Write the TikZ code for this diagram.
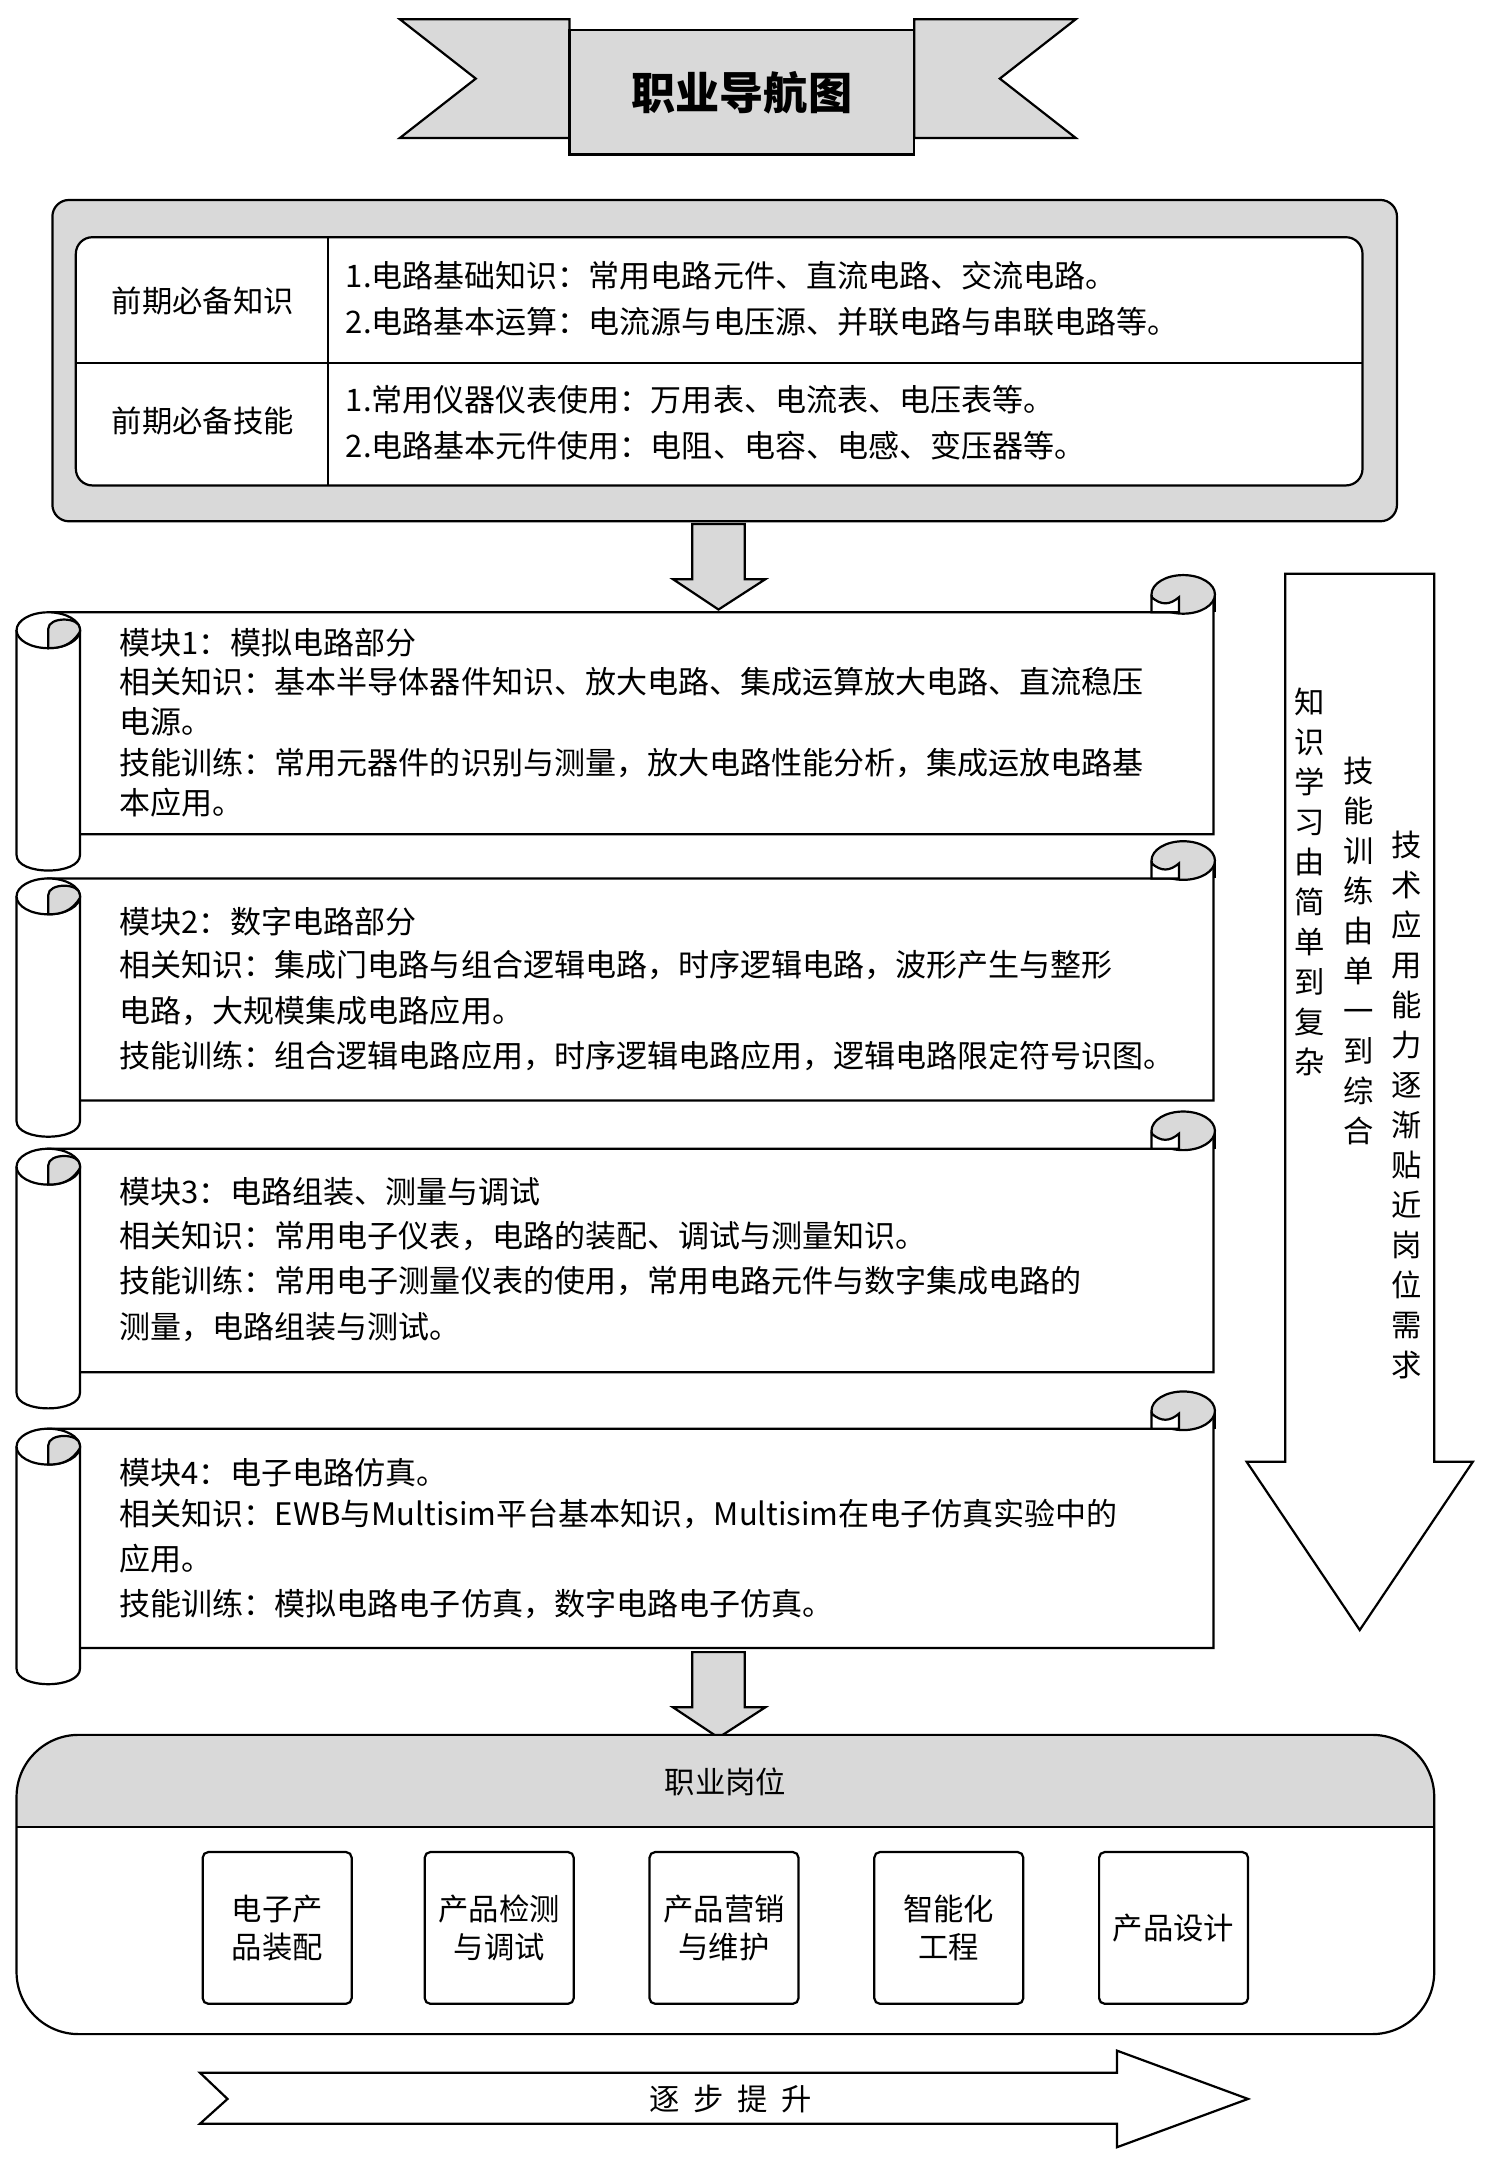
\documentclass[tikz,border=0pt]{standalone}
\usepackage{fontspec}
\setmainfont{Noto Sans CJK SC}
\begin{document}
\begin{tikzpicture}[x=1pt,y=-1pt,line width=1.6pt,
  txt/.style={anchor=west,font=\fontsize{22.5}{26}\selectfont,inner sep=0pt},
  job/.style={draw,rounded corners=4pt,minimum width=108pt,minimum height=110pt,align=center,font=\fontsize{22}{28}\selectfont},
  vtxt/.style={align=center,font=\fontsize{22}{29}\selectfont,inner sep=0pt,anchor=north}]
\useasboundingbox (0,0) rectangle (1080,1575);
\definecolor{g}{gray}{0.85}
% banner
\draw[fill=g] (290,14)--(413,14)--(413,100)--(290,100)--(345,57)--cycle;
\draw[fill=g] (780,14)--(663,14)--(663,100)--(780,100)--(725,57)--cycle;
\node[draw,fill=g,minimum width=250pt,minimum height=90pt,font=\fontsize{32}{32}\selectfont\bfseries] (title) at (538,67) {职业导航图};
% pre box
\draw[fill=g,rounded corners=12pt] (38,145) rectangle (1013,378);
\draw[fill=white,rounded corners=12pt] (55,172) rectangle (988,352);
\draw (238,172)--(238,352) (55,263)--(988,263);
\node[font=\fontsize{22}{22}\selectfont] (k) at (147,218) {前期必备知识};
\node[font=\fontsize{22}{22}\selectfont] (s) at (147,305) {前期必备技能};
\node[txt] at (250,200) {1.电路基础知识：常用电路元件、直流电路、交流电路。};
\node[txt] at (250,233) {2.电路基本运算：电流源与电压源、并联电路与串联电路等。};
\node[txt] at (250,290) {1.常用仪器仪表使用：万用表、电流表、电压表等。};
\node[txt] at (250,323) {2.电路基本元件使用：电阻、电容、电感、变压器等。};
% arrows down
\newcommand\darrow[1]{\draw[fill=g] (502,#1)--(540,#1)--(540,#1+40)--(555,#1+40)--(521,#1+62)--(488,#1+40)--(502,#1+40)--cycle;}
\darrow{380}
\darrow{1198}
% scrolls: #1 = top line y, #2 = bottom of left roll
\newcommand\myscroll[2]{
 \draw[fill=white] (35,#1)--(855,#1)--(880,#1-13)--(880,#2-27)--(35,#2-27)--cycle;
 \draw[fill=white] (12,#1+13)--(12,#2-12) .. controls (12,#2+3) and (58,#2+3) .. (58,#2-12)--(58,#1+13);
 \draw[fill=white] (35,#1+13) ellipse[x radius=23,y radius=13];
 \draw[fill=g] (35,#1+26)--(35,#1+12) .. controls (35,#1+3) and (58,#1+3) .. (58,#1+12)--(58,#1+14) .. controls (52,#1+24) and (44,#1+26) .. cycle;
 \draw[fill=g] (858,#1-13) ellipse[x radius=23,y radius=14];
 \draw[fill=white] (835,#1)--(835,#1-11) .. controls (842,#1-5) and (848,#1-5) .. (855,#1-11)--(855,#1)--cycle;
 \draw (881,#1-13)--(881,#1);
}
\myscroll{444}{632}
\myscroll{637}{825}
\myscroll{833}{1022}
\myscroll{1036}{1222}
\node[txt] at (86,466) {模块1：模拟电路部分};
\node[txt] at (86,494) {相关知识：基本半导体器件知识、放大电路、集成运算放大电路、直流稳压};
\node[txt] at (86,523) {电源。};
\node[txt] at (86,553) {技能训练：常用元器件的识别与测量，放大电路性能分析，集成运放电路基};
\node[txt] at (86,582) {本应用。};
\node[txt] at (86,668) {模块2：数字电路部分};
\node[txt] at (86,700) {相关知识：集成门电路与组合逻辑电路，时序逻辑电路，波形产生与整形};
\node[txt] at (86,733) {电路，大规模集成电路应用。};
\node[txt] at (86,766) {技能训练：组合逻辑电路应用，时序逻辑电路应用，逻辑电路限定符号识图。};
\node[txt] at (86,864) {模块3：电路组装、测量与调试};
\node[txt] at (86,896) {相关知识：常用电子仪表，电路的装配、调试与测量知识。};
\node[txt] at (86,929) {技能训练：常用电子测量仪表的使用，常用电路元件与数字集成电路的};
\node[txt] at (86,962) {测量，电路组装与测试。};
\node[txt] at (86,1068) {模块4：电子电路仿真。};
\node[txt] at (86,1098) {相关知识：EWB与Multisim平台基本知识，Multisim在电子仿真实验中的};
\node[txt] at (86,1130) {应用。};
\node[txt] at (86,1163) {技能训练：模拟电路电子仿真，数字电路电子仿真。};
% big right arrow
\draw (932,416)--(1040,416)--(1040,1060)--(1068,1060)--(986,1182)--(904,1060)--(932,1060)--cycle;
\node[vtxt] (v1) at (950,498) {知\\识\\学\\习\\由\\简\\单\\到\\复\\杂};
\node[vtxt] (v2) at (985,548) {技\\能\\训\\练\\由\\单\\一\\到\\综\\合};
\node[vtxt] (v3) at (1020,602) {技\\术\\应\\用\\能\\力\\逐\\渐\\贴\\近\\岗\\位\\需\\求};
% jobs box
\begin{scope}
\clip[rounded corners=45pt] (12,1258) rectangle (1040,1475);
\fill[g] (12,1258) rectangle (1040,1325);
\end{scope}
\draw[rounded corners=45pt] (12,1258) rectangle (1040,1475);
\draw (12,1325)--(1040,1325);
\node[font=\fontsize{22}{22}\selectfont] (jobs) at (526,1292) {职业岗位};
\node[job] (j1) at (201,1398) {电子产\\品装配};
\node[job] (j2) at (362,1398) {产品检测\\与调试};
\node[job] (j3) at (525,1398) {产品营销\\与维护};
\node[job] (j4) at (688,1398) {智能化\\工程};
\node[job] (j5) at (851,1398) {产品设计};
% bottom arrow
\draw (145,1503)--(810,1503)--(810,1487)--(905,1522)--(810,1557)--(810,1540)--(145,1540)--(165,1522)--cycle;
\node[font=\fontsize{22}{22}\selectfont] (up) at (530,1522) {逐\ \ 步\ \ 提\ \ 升};
\end{tikzpicture}
\end{document}
